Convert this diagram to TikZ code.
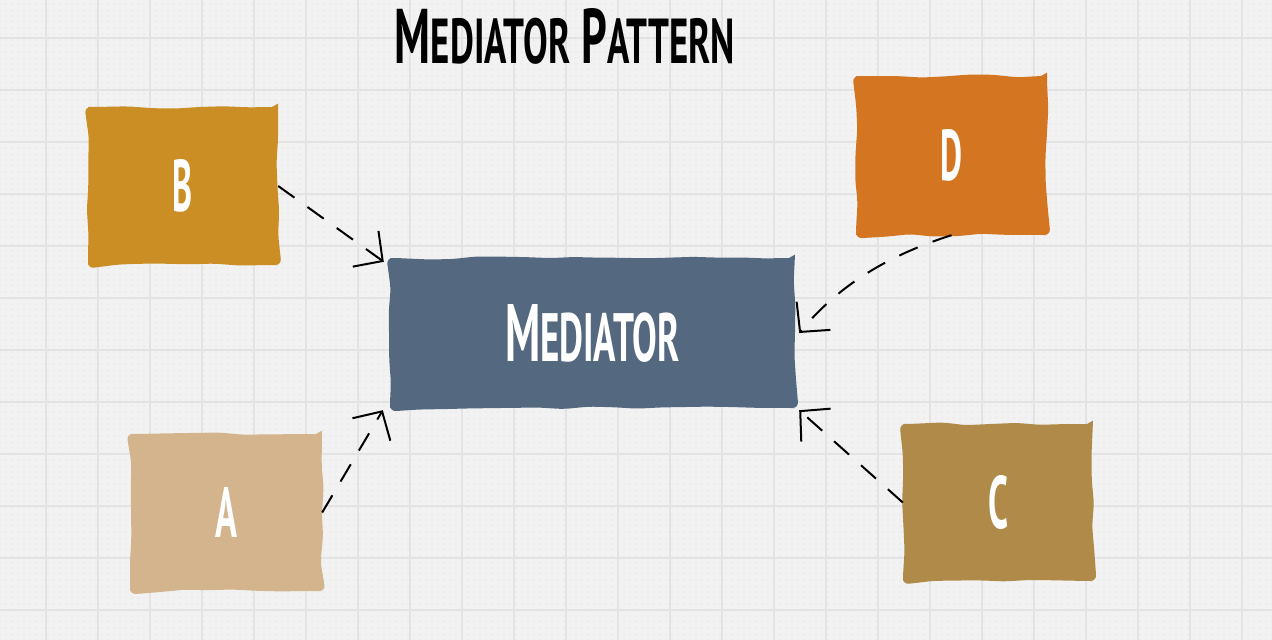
\documentclass[tikz,border=0pt]{standalone}
\usepackage{fontspec}
\setmainfont{PT Sans}
\usetikzlibrary{arrows.meta,decorations.pathmorphing,patterns.meta}
\definecolor{bg}{HTML}{F2F2F2}
\definecolor{dotc}{HTML}{E6E6E6}
\definecolor{gridc}{HTML}{E3E3E3}
\definecolor{cB}{HTML}{CA8E24}
\definecolor{cD}{HTML}{D47621}
\definecolor{cM}{HTML}{546880}
\definecolor{cA}{HTML}{D3B48C}
\definecolor{cC}{HTML}{AF8A48}
\begin{document}
\begin{tikzpicture}[x=1pt,y=-1pt,
  box/.style={fill=#1, inner sep=0pt, decorate,
    decoration={random steps,segment length=24pt,amplitude=1.6pt}, rounded corners=6pt},
  lbl/.style={text=white, font=\bfseries},
  conn/.style={draw=black, line width=2pt, dash pattern=on 20pt off 16pt,
    -{Straight Barb[length=21pt,width=44pt,line width=2pt]}}]
\pgfmathsetseed{7}
\useasboundingbox (0,0) rectangle (1272,640);
\fill[bg] (0,0) rectangle (1272,640);
\fill[pattern={Dots[distance=6pt,radius=0.9pt]}, pattern color=dotc] (0,0) rectangle (1272,640);
\foreach \x in {46,98,...,1272} \draw[gridc,line width=2pt] (\x,0) -- (\x,640);
\foreach \y in {38,90,...,640} \draw[gridc,line width=2pt] (0,\y) -- (1272,\y);

\node[anchor=south, inner sep=0pt, font=\bfseries] (title) at (565,65)
  {\resizebox{340pt}{55pt}{\fontsize{50}{50}\selectfont M{\fontsize{41}{41}\selectfont EDIATOR} P{\fontsize{41}{41}\selectfont ATTERN}}};

\node[box=cB, minimum width=190pt, minimum height=158pt, lbl] (B) at (183,186)
  {\resizebox{20pt}{52pt}{B}};
\node[box=cD, minimum width=191pt, minimum height=159pt, lbl] (D) at (951.5,155.5)
  {\resizebox{22pt}{51pt}{D}};
\node[box=cM, minimum width=405pt, minimum height=150pt, lbl] (M) at (592.5,333)
  {\resizebox{175pt}{57pt}{\fontsize{50}{50}\selectfont M{\fontsize{42}{42}\selectfont EDIATOR}}};
\node[box=cA, minimum width=192pt, minimum height=157pt, lbl] (A) at (226,512.5)
  {\resizebox{22pt}{50pt}{A}};
\node[box=cC, minimum width=190pt, minimum height=157pt, lbl] (C) at (998,502.5)
  {\resizebox{20pt}{53pt}{C}};

\draw[conn] (B.east) -- ([shift={(-6,4)}]M.north west);
\draw[conn] (A.east) -- ([shift={(-7,2)}]M.south west);
\draw[conn] (C.west) -- ([shift={(4,2)}]M.south east);
\draw[conn] (D.south) .. controls (880,258) and (835,290) .. ([xshift=4pt]M.east);
\end{tikzpicture}
\end{document}
